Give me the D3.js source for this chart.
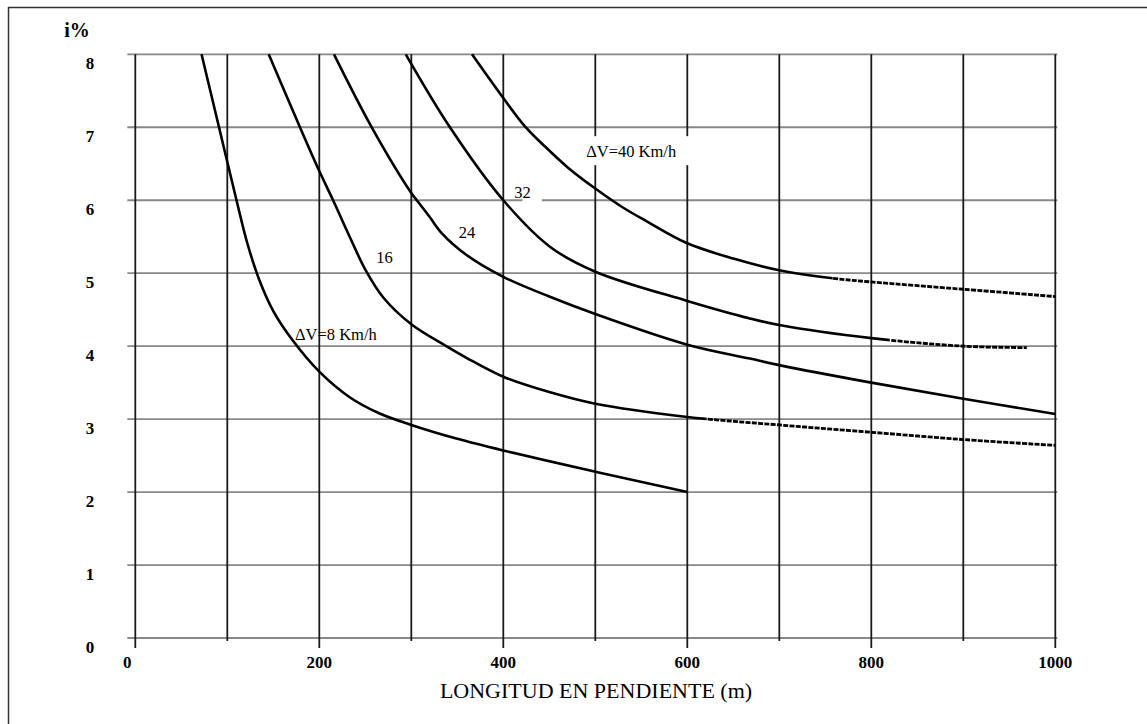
<!DOCTYPE html>
<html>
<head>
<meta charset="utf-8">
<script src="https://cdn.jsdelivr.net/npm/d3@7"></script>
<style>
  html, body { margin: 0; padding: 0; background: #fff; }
  svg { display: block; }
</style>
</head>
<body>
<svg id="chart" width="1147" height="724"></svg>
<script>
// Axis ticks
const lengthTicks = [0, 200, 400, 600, 800, 1000];   // labelled ticks (m)
const lengthGrid = [0, 100, 200, 300, 400, 500, 600, 700, 800, 900, 1000];
const gradeTicks = [0, 1, 2, 3, 4, 5, 6, 7, 8];      // grade (%)

// Speed-reduction curves: [length of grade (m), grade (%)]
const dv8 = [[72, 8], [91, 7], [110, 6], [122, 5.4], [135, 4.9], [150, 4.48], [171, 4.08],
  [200, 3.65], [233, 3.3], [265, 3.08], [300, 2.92], [350, 2.73], [400, 2.57], [500, 2.28],
  [600, 2.0]];
const dv16 = [[145, 8], [179, 7], [200, 6.4], [215, 6], [233, 5.5], [250, 5.05], [270, 4.66],
  [300, 4.3], [338, 4.0], [360, 3.84], [400, 3.58], [450, 3.37], [500, 3.21], [600, 3.03],
  [700, 2.92], [800, 2.82], [900, 2.72], [1000, 2.64]];
const dv24 = [[216, 8], [257, 7], [300, 6.1], [306, 6], [320, 5.77], [333, 5.55], [360, 5.25],
  [400, 4.95], [450, 4.68], [500, 4.44], [600, 4.02], [668, 3.83], [700, 3.74], [800, 3.5],
  [900, 3.28], [1000, 3.07]];
const dv32 = [[294, 8], [342, 7], [400, 6.0], [451, 5.36], [500, 5.02], [600, 4.62], [668, 4.38],
  [700, 4.29], [800, 4.11], [900, 4.0], [969, 3.98]];
const dv40 = [[366, 8], [400, 7.4], [423, 7.02], [445, 6.74], [470, 6.45], [500, 6.16], [530, 5.9],
  [556, 5.71], [600, 5.41], [650, 5.2], [700, 5.04], [758, 4.93], [800, 4.88], [900, 4.78],
  [1000, 4.68]];

// Curve captions: text and anchor point in data units
const captionText = ["ΔV=8 Km/h", "16", "24", "32", "ΔV=40 Km/h"];
const captionAt = [[218, 4.09], [271, 5.14], [360.5, 5.48], [421, 6.03], [539, 6.59]];

// Length where each curve turns dashed (null = solid all the way)
const dashFrom = [null, 620, null, 820, 758];

const series = [dv8, dv16, dv24, dv32, dv40];

const svg = d3.select("#chart");
const FONT = "'Liberation Serif', 'Times New Roman', serif";

const x = d3.scaleLinear().domain([0, 1000]).range([135.3, 1055.3]);
const y = d3.scaleLinear().domain([0, 8]).range([638, 54.3]);

// Outer frame (left and top edges)
svg.append("path")
  .attr("d", "M8.5,724 L8.5,7.5 L1147,7.5")
  .attr("fill", "none")
  .attr("stroke", "#333")
  .attr("stroke-width", 1.5);

// Horizontal grid (gray)
svg.append("g").selectAll("line")
  .data(gradeTicks).join("line")
  .attr("x1", x(0) - 8).attr("x2", x(1000) + 2)
  .attr("y1", d => y(d)).attr("y2", d => y(d))
  .attr("stroke", "#888").attr("stroke-width", 1.8);

// Vertical grid (black), labelled ticks run a little below the base line
svg.append("g").selectAll("line")
  .data(lengthGrid).join("line")
  .attr("x1", d => x(d)).attr("x2", d => x(d))
  .attr("y1", y(8))
  .attr("y2", d => y(0) + (lengthTicks.includes(d) ? 10 : 3))
  .attr("stroke", "#1a1a1a").attr("stroke-width", 1.8);

// Y tick labels
svg.append("g").selectAll("text")
  .data(gradeTicks).join("text")
  .attr("x", 90).attr("y", d => y(d) + 15)
  .attr("text-anchor", "middle")
  .attr("font-family", FONT).attr("font-weight", "bold").attr("font-size", 17)
  .text(d => d);

// X tick labels
svg.append("g").selectAll("text")
  .data(lengthTicks).join("text")
  .attr("x", d => x(d) - (d === 0 ? 8 : 0)).attr("y", 668)
  .attr("text-anchor", "middle")
  .attr("font-family", FONT).attr("font-weight", "bold").attr("font-size", 17)
  .text(d => d);

// Axis titles
svg.append("text")
  .attr("x", 77).attr("y", 37).attr("text-anchor", "middle")
  .attr("font-family", FONT).attr("font-weight", "bold").attr("font-size", 20)
  .text("i%");
svg.append("text")
  .attr("x", 596).attr("y", 698).attr("text-anchor", "middle")
  .attr("font-family", FONT).attr("font-size", 22)
  .text("LONGITUD EN PENDIENTE (m)");

// White boxes behind the captions that interrupt the grid
const boxes = svg.append("g");

// Curves
const line = d3.line()
  .x(d => x(d[0])).y(d => y(d[1]))
  .curve(d3.curveCatmullRom.alpha(0.5));

const defs = svg.append("defs");
const curves = svg.append("g");
series.forEach((pts, k) => {
  const cut = dashFrom[k];
  if (cut === null) {
    curves.append("path").attr("d", line(pts))
      .attr("fill", "none").attr("stroke", "#000").attr("stroke-width", 2.6);
    return;
  }
  const solidId = "solid" + k, dashId = "dash" + k;
  defs.append("clipPath").attr("id", solidId).append("rect")
    .attr("x", 0).attr("y", 0).attr("width", x(cut)).attr("height", 724);
  defs.append("clipPath").attr("id", dashId).append("rect")
    .attr("x", x(cut)).attr("y", 0).attr("width", 1147 - x(cut)).attr("height", 724);
  curves.append("path").attr("d", line(pts))
    .attr("clip-path", `url(#${solidId})`)
    .attr("fill", "none").attr("stroke", "#000").attr("stroke-width", 2.6);
  curves.append("path").attr("d", line(pts))
    .attr("clip-path", `url(#${dashId})`)
    .attr("fill", "none").attr("stroke", "#000").attr("stroke-width", 2.8)
    .attr("stroke-dasharray", "5,1.3");
});

// Captions
const captions = svg.append("g");
captionText.forEach((t, k) => {
  const node = captions.append("text")
    .attr("x", x(captionAt[k][0])).attr("y", y(captionAt[k][1]))
    .attr("text-anchor", "middle")
    .attr("font-family", FONT).attr("font-size", 16.5)
    .text(t);
  // "32" and "ΔV=40 Km/h" sit on a white patch that breaks the grid
  if (k === 3 || k === 4) {
    const b = node.node().getBBox();
    const padL = k === 3 ? -8 : 5, padR = k === 3 ? 11 : 14;
    const padT = k === 3 ? 0 : 6, padB = k === 3 ? 0 : 4;
    boxes.append("rect")
      .attr("x", b.x - padL).attr("y", b.y - padT)
      .attr("width", b.width + padL + padR).attr("height", b.height + padT + padB)
      .attr("fill", "#fff");
  }
});
</script>
</body>
</html>
